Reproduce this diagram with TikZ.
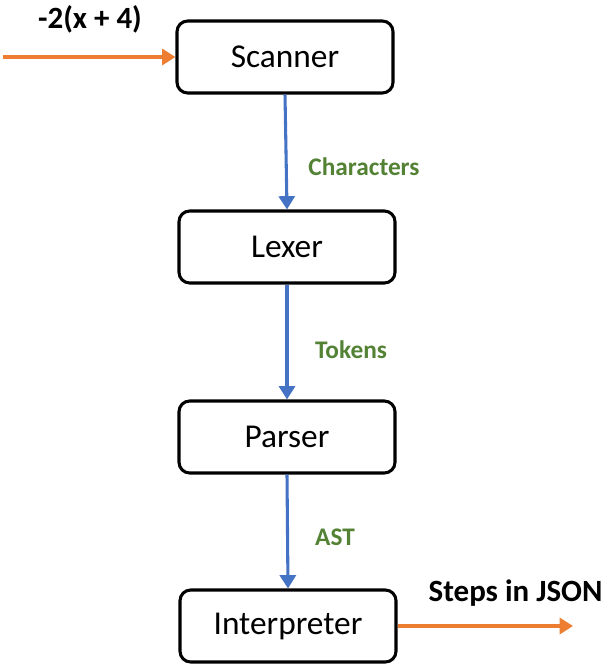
\documentclass[tikz,border=0pt]{standalone}
\usepackage{fontspec}
\setmainfont{Carlito}
\usetikzlibrary{arrows.meta}
\definecolor{flowblue}{HTML}{4472C4}
\definecolor{floworange}{HTML}{ED7D31}
\definecolor{labelgreen}{HTML}{548235}
\tikzset{
  stage/.style={draw=black, line width=2.3pt, rounded corners=8pt, fill=white,
    minimum width=162pt, minimum height=54pt, inner sep=0pt,
    font=\fontsize{25}{29}\selectfont},
  flow/.style={draw=flowblue, line width=2.3pt, -{Triangle[width=12pt,length=10pt]}},
  io/.style={draw=floworange, line width=2.3pt, -{Triangle[width=12pt,length=10pt]}},
  edgelabel/.style={text=labelgreen, font=\bfseries\fontsize{19}{22}\selectfont},
  iolabel/.style={text=black, font=\bfseries\fontsize{23.2}{27}\selectfont}
}
\begin{document}
\begin{tikzpicture}[x=0.75pt, y=-0.75pt]
  \useasboundingbox (0,0) rectangle (605,667);

  % pipeline stages
  \node[stage] (scan)   at (285,57)  {Scanner};
  \node[stage] (lex)    at (287,247) {Lexer};
  \node[stage] (parse)  at (287,437) {Parser};
  \node[stage] (interp) at (288,626) {Interpreter};

  % input and output ends
  \coordinate (in)  at (3,57);
  \coordinate (out) at (573,626);

  \draw[io] (in) -- (scan.west);
  \draw[flow] (scan.south) -- (lex.north);
  \draw[flow] (lex.south) -- (parse.north);
  \draw[flow] (parse.south) -- (interp.north);
  \draw[io] (interp.east) -- (out);

  % labels
  \node[iolabel] (inlabel) at (90,19) {-2(x + 4)};
  \node[iolabel, anchor=east, inner sep=1pt] (outlabel) at (604,593) {Steps in JSON};
  \node[edgelabel] (l1) at (364,167) {Characters};
  \node[edgelabel] (l2) at (351,350) {Tokens};
  \node[edgelabel] (l3) at (335,537) {AST};
\end{tikzpicture}
\end{document}
